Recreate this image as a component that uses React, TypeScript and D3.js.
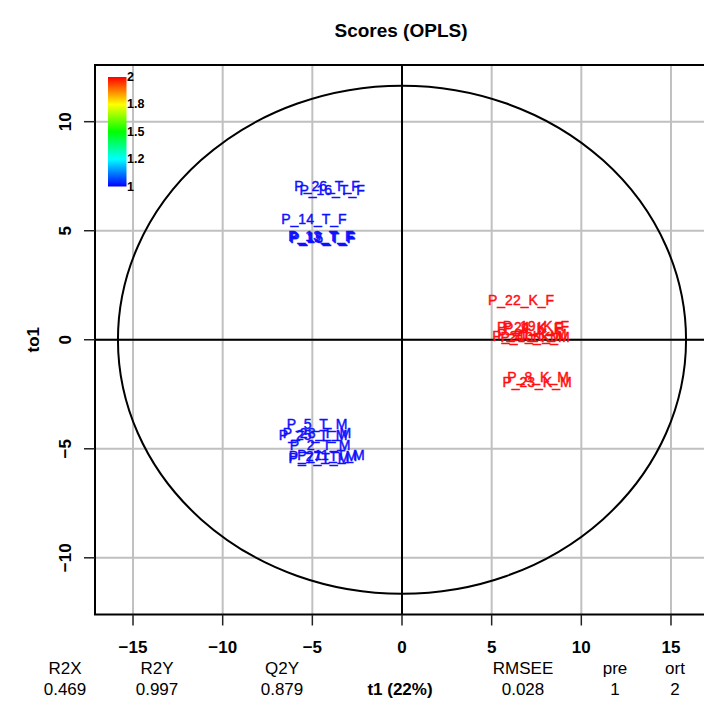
import React from "react";
import * as d3 from "d3";

// ---- data ----
const sampleLabels = [
  "P_26_T_F", "P_16_T_F", "P_14_T_F", "P_13_T_F", "P_15_T_F", "P_12_T_F",
  "P_5_T_M", "P_28_T_M", "P_25_T_M", "P_2_T_M", "P_27_T_M", "P_7_T_M", "P_11_T_M",
  "P_22_K_F", "P_24_K_F", "P_19_K_F", "P_9_K_F", "P_20_K_M", "P_21_K_M", "P_10_K_M",
  "P_8_K_M", "P_23_K_M",
];
const t1Scores = [
  -4.18, -3.9, -4.91, -4.52, -4.41, -4.46,
  -4.74, -4.74, -4.96, -4.57, -4.41, -4.63, -3.96,
  6.64, 7.14, 7.47, 7.31, 6.97, 7.25, 7.42,
  7.59, 7.53,
];
const to1Scores = [
  7.05, 6.87, 5.52, 4.76, 4.67, 4.72,
  -3.86, -4.28, -4.37, -4.83, -5.34, -5.43, -5.29,
  1.82, 0.58, 0.63, 0.54, 0.17, 0.26, 0.13,
  -1.71, -1.94,
];
const groupValues = [
  1, 1, 1, 1, 1, 1,
  1, 1, 1, 1, 1, 1, 1,
  2, 2, 2, 2, 2, 2, 2,
  2, 2,
];
const xTicks = [-15, -10, -5, 0, 5, 10, 15];
const yTicks = [-10, -5, 0, 5, 10];
const colorbarTicks = [1, 1.25, 1.5, 1.75, 2];
const colorbarTickLabels = ["1", "1.2", "1.5", "1.8", "2"];
const statNames = ["R2X", "R2Y", "Q2Y", "RMSEE", "pre", "ort"];
const statValues = ["0.469", "0.997", "0.879", "0.028", "1", "2"];
const xDomain = [-17.12, 17.12];
const yDomain = [-12.6, 12.6];
const ellipseRadii = [15.84, 11.65];

export default function App() {
  const W = 704, H = 702;
  const left = 95, right = 709, top = 65, bottom = 614.5;
  const x = d3.scaleLinear().domain(xDomain).range([left, right]);
  const y = d3.scaleLinear().domain(yDomain).range([bottom, top]);
  const colorScale = d3
    .scaleLinear<string>()
    .domain([1, 1.25, 1.5, 1.75, 2])
    .range(["#0000ff", "#00ffff", "#00ff00", "#ffff00", "#ff0000"]);
  const cbY = d3.scaleLinear().domain([1, 2]).range([186.5, 77]);
  const font = "Liberation Sans, Arial, Helvetica, sans-serif";
  const statX = [65, 157, 282, 523, 615, 675];
  const rx = x(ellipseRadii[0]) - x(0);
  const ry = y(0) - y(ellipseRadii[1]);
  const gradStops = d3.range(0, 1.0001, 0.05);

  return (
    <svg
      width={W}
      height={H}
      style={{ position: "absolute", left: 0, top: 0, background: "#fff" }}
      fontFamily={font}
    >
      <defs>
        <clipPath id="plotclip">
          <rect x={left} y={top} width={right - left} height={bottom - top} />
        </clipPath>
        <linearGradient id="cbgrad" x1="0" y1="1" x2="0" y2="0">
          {gradStops.map((s, i) => (
            <stop key={i} offset={s} stopColor={colorScale(1 + s)} />
          ))}
        </linearGradient>
      </defs>
      <rect x={0} y={0} width={W} height={H} fill="#fff" />
      {/* title */}
      <text x={401} y={37} textAnchor="middle" fontWeight="bold" fontSize={19}>
        Scores (OPLS)
      </text>
      <g clipPath="url(#plotclip)">
        {xTicks.map((t) => (
          <line key={"gx" + t} x1={x(t)} x2={x(t)} y1={top} y2={bottom} stroke="#c0c0c0" strokeWidth={2} />
        ))}
        {yTicks.map((t) => (
          <line key={"gy" + t} x1={left} x2={right} y1={y(t)} y2={y(t)} stroke="#c0c0c0" strokeWidth={2} />
        ))}
        <line x1={x(0)} x2={x(0)} y1={top} y2={bottom} stroke="#000" strokeWidth={2} />
        <line x1={left} x2={right} y1={y(0)} y2={y(0)} stroke="#000" strokeWidth={2} />
        <ellipse cx={x(0)} cy={y(0)} rx={rx} ry={ry} fill="none" stroke="#000" strokeWidth={2} />
        {sampleLabels.map((lab, i) => {
          const c = groupValues[i] === 1 ? "#1010ff" : "#ff1010";
          return (
            <text
              key={lab}
              x={x(t1Scores[i])}
              y={y(to1Scores[i])}
              textAnchor="middle"
              dominantBaseline="central"
              fontSize={14}
              fill={c}
              stroke={c}
              strokeWidth={0.45}
            >
              {lab}
            </text>
          );
        })}
        {/* colorbar */}
        <rect x={108} y={cbY(2)} width={18.5} height={cbY(1) - cbY(2)} fill="url(#cbgrad)" />
        {colorbarTicks.map((t, i) => (
          <text key={"cb" + t} x={127} y={cbY(t)} dominantBaseline="central" fontSize={12.5} fontWeight="bold">
            {colorbarTickLabels[i]}
          </text>
        ))}
      </g>
      {/* frame */}
      <rect x={left} y={top} width={right - left + 10} height={bottom - top} fill="none" stroke="#000" strokeWidth={2} />
      {/* x axis ticks */}
      {xTicks.map((t) => (
        <g key={"xt" + t}>
          <line x1={x(t)} x2={x(t)} y1={bottom} y2={bottom + 11} stroke="#222" strokeWidth={1.5} />
          <text x={x(t)} y={653} textAnchor="middle" fontWeight="bold" fontSize={17}>
            {t < 0 ? "\u2212" + Math.abs(t) : String(t)}
          </text>
        </g>
      ))}
      {/* y axis ticks */}
      {yTicks.map((t) => (
        <g key={"yt" + t}>
          <line x1={left - 11} x2={left} y1={y(t)} y2={y(t)} stroke="#222" strokeWidth={1.5} />
          <text
            transform={`translate(71,${y(t)}) rotate(-90)`}
            textAnchor="middle"
            fontWeight="bold"
            fontSize={17}
          >
            {t < 0 ? "\u2212" + Math.abs(t) : String(t)}
          </text>
        </g>
      ))}
      <text transform={`translate(39,${y(0)}) rotate(-90)`} textAnchor="middle" fontWeight="bold" fontSize={17}>
        to1
      </text>
      {/* stats */}
      {statNames.map((n, i) => (
        <g key={n}>
          <text x={statX[i]} y={674} textAnchor="middle" fontSize={17}>
            {n}
          </text>
          <text x={statX[i]} y={695} textAnchor="middle" fontSize={17}>
            {statValues[i]}
          </text>
        </g>
      ))}
      <text x={400} y={695} textAnchor="middle" fontSize={17} fontWeight="bold">
        t1 (22%)
      </text>
    </svg>
  );
}
